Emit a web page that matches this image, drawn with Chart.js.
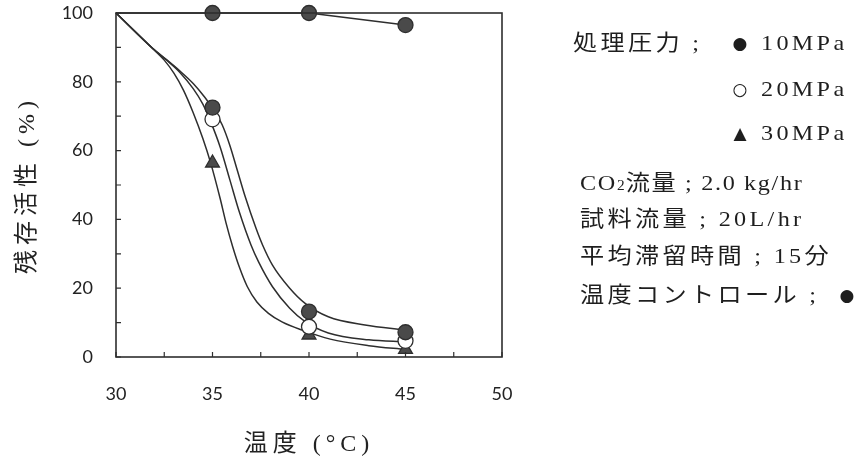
<!DOCTYPE html>
<html>
<head>
<meta charset="utf-8">
<script src="https://cdn.jsdelivr.net/npm/chart.js@4.4.1/dist/chart.umd.min.js"></script>
<style>
  html, body { margin: 0; padding: 0; background: #fff; }
  #wrap { position: relative; width: 859px; height: 459px; background: #fff; overflow: hidden; }
  canvas { position: absolute; left: 0; top: 0; }
  .note { position: absolute; font-family: 'Liberation Serif', 'Noto Sans CJK JP', serif; font-size: 22px;
          line-height: 26px; color: #1e1e1e; letter-spacing: 3px; white-space: nowrap;
          transform: scaleX(1.1); transform-origin: 0 50%; }
  .tight { letter-spacing: 1.5px; }
  .sym { position: absolute; font-family: 'DejaVu Sans', sans-serif; font-size: 17px; line-height: 26px;
         color: #1e1e1e; transform: translateX(-50%); }
  .sub { font-size: 14px; letter-spacing: 1px; }
</style>
</head>
<body>
<div id="wrap">
  <canvas id="c" width="859" height="459"></canvas>
  <div class="note" style="left:573px;top:30px">処理圧力 ;</div>
  <div class="sym" style="left:740px;top:30px">●</div>
  <div class="note" style="left:761px;top:30px">10MPa</div>
  <div class="sym" style="left:740px;top:76px">○</div>
  <div class="note" style="left:761px;top:76px">20MPa</div>
  <div class="sym" style="left:740px;top:120px">▲</div>
  <div class="note" style="left:761px;top:120px">30MPa</div>
  <div class="note tight" style="left:580px;top:170px">CO<span class="sub">2</span>流量 ; 2.0 kg/hr</div>
  <div class="note" style="left:580px;top:206px">試料流量 ; 20L/hr</div>
  <div class="note" style="left:580px;top:243px">平均滞留時間 ; 15分</div>
  <div class="note" style="left:580px;top:282px">温度コントロール ;</div>
  <div class="sym" style="left:847px;top:282px">●</div>
</div>
<script>
const controlTemps = [30, 35, 40, 45];
const controlActivity = [100, 100, 100, 96.5];       // 温度コントロール

const markerTemps = [35, 40, 45];
const activity10MPa = [72.5, 13.2, 7.2];
const activity20MPa = [69.1, 8.8, 4.7];
const activity30MPa = [56.4, 6.4, 2.2];

// ---- fitted curves ----
const fit10X = [30, 31.9, 32.6, 33.3, 34.0, 34.6, 35.1, 35.5, 35.9, 36.3, 36.7, 37.25, 37.6, 38.1, 39.0, 39.8, 41.0, 42.9, 45];
const fit10Y = [100, 89.7, 86.5, 83.2, 79.5, 75.5, 71.5, 67.5, 61.5, 54.0, 46.5, 37.5, 32.5, 26.8, 20.0, 15.6, 11.7, 9.3, 7.8];
const fit20X = [30, 31.9, 32.6, 33.3, 34.0, 34.5, 34.9, 35.4, 35.9, 36.4, 37.0, 37.4, 38.1, 39.0, 39.8, 41.0, 43.1, 45];
const fit20Y = [100, 89.7, 86.4, 82.8, 78.0, 73.5, 68.5, 61.0, 51.5, 42.0, 32.5, 27.5, 20.5, 14.2, 10.3, 7.0, 5.0, 4.4];
const fit30X = [30, 31.9, 32.5, 33.0, 33.5, 34.0, 34.5, 34.9, 35.4, 35.7, 36.05, 36.4, 36.8, 37.3, 37.9, 38.6, 39.65, 41.1, 43.1, 45];
const fit30Y = [100, 89.7, 86.3, 82.5, 77.5, 71.0, 63.5, 56.5, 46.0, 39.0, 32.0, 26.0, 20.5, 16.0, 12.7, 10.2, 7.8, 5.2, 3.3, 2.2];

// ---- axis ticks ----
const xMin = 30, xMax = 50, xStep = 2.5, xLabelEvery = 5;
const yMin = 0, yMax = 100, yStep = 10, yLabelEvery = 20;

const toPts = (xs, ys) => xs.map((x, i) => ({ x: x, y: ys[i] }));

const INK = '#2e2e2e';
const FILL = '#4a4a4a';

const frameAndTicks = {
  id: 'frameAndTicks',
  beforeDraw(chart) {
    // widen the letter pitch of the axis titles only
    Object.values(chart.scales).forEach(s => {
      if (!s._spacedTitle) {
        const orig = s.drawTitle;
        s.drawTitle = function () {
          const c = this.ctx;
          const prev = c.letterSpacing;
          c.letterSpacing = '5px';
          orig.call(this);
          c.letterSpacing = prev || '0px';
        };
        s._spacedTitle = true;
      }
    });
  },
  afterDatasetsDraw(chart) {
    const { ctx, chartArea: a, scales } = chart;
    ctx.save();
    ctx.strokeStyle = INK;
    ctx.lineWidth = 1.6;
    ctx.strokeRect(a.left, a.top, a.right - a.left, a.bottom - a.top);
    ctx.lineWidth = 1.2;
    ctx.beginPath();
    scales.x.ticks.forEach(t => {
      const px = scales.x.getPixelForValue(t.value);
      ctx.moveTo(px, a.bottom);
      ctx.lineTo(px, a.bottom - 5);
    });
    scales.y.ticks.forEach(t => {
      const py = scales.y.getPixelForValue(t.value);
      ctx.moveTo(a.left, py);
      ctx.lineTo(a.left + 5, py);
    });
    ctx.stroke();
    ctx.restore();
  }
};

const markerBase = { showLine: false, clip: false, borderColor: INK, borderWidth: 1.3, pointRadius: 7.5 };
const curveBase = { showLine: true, pointRadius: 0, borderColor: INK, borderWidth: 1.5,
                    cubicInterpolationMode: 'monotone', fill: false, clip: false };

new Chart(document.getElementById('c'), {
  type: 'scatter',
  data: {
    datasets: [
      Object.assign({}, markerBase, { label: '10MPa', data: toPts(markerTemps, activity10MPa),
        pointStyle: 'circle', backgroundColor: FILL, pointBackgroundColor: FILL }),
      Object.assign({}, markerBase, { label: '20MPa', data: toPts(markerTemps, activity20MPa),
        pointStyle: 'circle', backgroundColor: '#ffffff', pointBackgroundColor: '#ffffff' }),
      Object.assign({}, markerBase, { label: '30MPa', data: toPts(markerTemps, activity30MPa),
        pointStyle: 'triangle', pointRadius: 8, backgroundColor: FILL, pointBackgroundColor: FILL }),
      { label: '温度コントロール', data: toPts(controlTemps, controlActivity), showLine: true, clip: false,
        borderColor: INK, borderWidth: 1.5, backgroundColor: FILL, pointBackgroundColor: FILL,
        pointBorderColor: INK, pointBorderWidth: 1.3, tension: 0,
        pointRadius: ctx => (ctx.dataIndex === 0 ? 0 : 7.5) },
      Object.assign({}, curveBase, { label: 'fit10', data: toPts(fit10X, fit10Y) }),
      Object.assign({}, curveBase, { label: 'fit20', data: toPts(fit20X, fit20Y) }),
      Object.assign({}, curveBase, { label: 'fit30', data: toPts(fit30X, fit30Y) })
    ]
  },
  options: {
    responsive: false,
    animation: false,
    layout: { padding: { left: 0, top: 13, right: 357, bottom: 0 } },
    plugins: { legend: { display: false }, tooltip: { enabled: false } },
    scales: {
      x: {
        type: 'linear', min: xMin, max: xMax,
        afterFit: s => { s.height = 102; s.paddingLeft = 0; s.paddingRight = 0; },
        grid: { display: false, drawTicks: false },
        border: { display: false },
        ticks: { stepSize: xStep, padding: 26, color: '#222',
                 font: { family: 'Lato', size: 18 },
                 callback: v => (v % xLabelEvery === 0 ? v : '') },
        title: { display: true, text: '温度 (°C)', color: '#222', padding: { top: 0, bottom: 0 },
                 font: { family: "'Liberation Serif', 'Noto Sans CJK JP'", size: 24 } }
      },
      y: {
        min: yMin, max: yMax,
        afterFit: s => { s.width = 116; s.paddingTop = 0; s.paddingBottom = 0; },
        grid: { display: false, drawTicks: false },
        border: { display: false },
        ticks: { stepSize: yStep, padding: 23, color: '#222',
                 font: { family: 'Lato', size: 18 },
                 callback: v => (v % yLabelEvery === 0 ? v : '') },
        title: { display: true, text: '残存活性 (%)', color: '#222', padding: { top: 13, bottom: 0 },
                 font: { family: "'Liberation Serif', 'Noto Sans CJK JP'", size: 24 } }
      }
    }
  },
  plugins: [frameAndTicks]
});
</script>
</body>
</html>
